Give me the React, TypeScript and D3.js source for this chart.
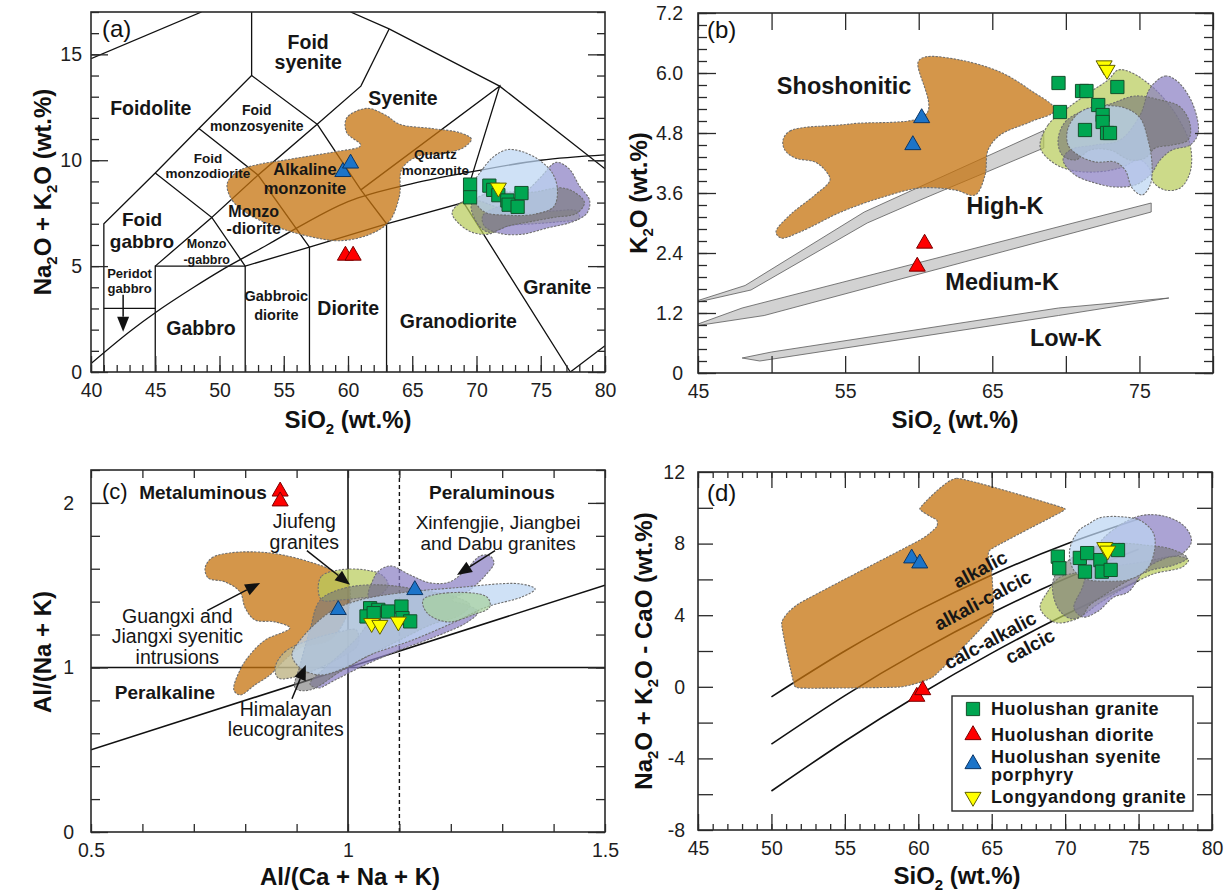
import React, { useRef, useEffect } from 'react';
import * as d3 from 'd3';

type Pt = [number, number];
type Sc = { x: d3.ScaleLinear<number, number>; y: d3.ScaleLinear<number, number> };

const FONT = '"Liberation Sans", Arial, Helvetica, sans-serif';
const W = 1231, H = 896;

// ---------------- (a) TAS, Middlemost (1994) ----------------
const tasLines: Pt[][] = [
  [[41, 0], [41, 7], [45, 9.4], [48.4, 11.5], [52.5, 14], [52.5, 17]],
  [[41, 3], [45, 3]],
  [[45, 0], [45, 5], [52, 5], [57, 5.9], [63, 7], [69, 8], [77.3, 0], [80, 1.24]],
  [[52, 0], [52, 5]],
  [[57, 0], [57, 5.9]],
  [[63, 0], [63, 7]],
  [[45, 5], [49.4, 7.3], [52, 5]],
  [[45, 9.4], [49.4, 7.3], [53, 9.3], [57, 5.9]],
  [[48.4, 11.5], [53, 9.3], [57.6, 11.7], [52.5, 14]],
  [[57.6, 11.7], [61, 8.6], [63, 7]],
  [[57.6, 11.7], [61, 13.5], [63.2, 16.2]],
  [[69, 8], [71.8, 13.5], [61, 8.6]],
  [[60.2, 17], [63.2, 16.2], [71.8, 13.5], [80, 9.6]],
  [[40, 14.8], [48.6, 17]],
];
const alkalineDivide: Pt[] = [[40, 0.4], [43.2, 2], [45, 2.8], [48, 4], [50, 4.75], [53.7, 6], [55, 6.45], [60, 8.05], [65, 8.9], [70, 9.5], [75, 10], [80, 10.25]];

const orangeA: Pt[] = [[50.6, 8.9], [51.0, 8.1], [52.4, 7.4], [54.7, 6.8], [57.0, 6.4], [59.4, 6.2], [61.7, 6.5], [63.2, 7.1], [64.0, 8.3], [64.2, 9.6], [65.5, 10.2], [67.3, 10.3], [69.0, 10.6], [69.6, 11.0], [68.7, 11.3], [66.5, 11.5], [64.0, 11.7], [63.0, 12.1], [61.5, 12.45], [59.9, 12.0], [59.9, 11.3], [61.0, 10.7], [59.0, 10.4], [57.0, 10.2], [55.0, 10.0], [53.0, 9.8], [51.5, 9.5]];
const yellowA: Pt[] = [[68.1, 7.5], [68.8, 8.0], [70, 8.1], [72, 7.7], [74, 7.5], [76, 7.6], [77.8, 7.6], [78.0, 7.25], [76.5, 7.1], [74.5, 7.0], [72.5, 6.9], [70.8, 6.5], [69.3, 6.7]];
const purpleA: Pt[] = [[70.5, 7.4], [72, 7.9], [73.8, 8.5], [75, 9.2], [76.2, 9.9], [77.2, 9.6], [78, 8.8], [78.8, 8.1], [78.6, 7.5], [77.5, 7.1], [75.5, 6.8], [73.5, 6.5], [71.8, 6.55], [70.6, 6.9]];
const grayA: Pt[] = [[69.6, 7.9], [70.6, 8.4], [72.5, 8.5], [74.5, 8.5], [76.5, 8.7], [77.6, 8.5], [78.4, 8.0], [77.8, 7.5], [76, 7.3], [74.2, 7.1], [72.5, 6.9], [71, 6.6], [70.2, 6.9]];
const blueA: Pt[] = [[69.6, 8.6], [70.5, 9.6], [71.4, 10.2], [72.4, 10.5], [73.6, 10.4], [74.9, 10.0], [75.9, 9.4], [76.3, 8.6], [76.0, 7.8], [74.5, 7.45], [72.5, 7.4], [70.5, 7.6]];

const graniteA: Pt[] = [[69.5, 8.85], [69.5, 8.25], [71.0, 8.8], [71.3, 8.6], [71.7, 8.35], [72.4, 8.1], [72.5, 7.9], [73.2, 7.8], [73.5, 8.45]];
const dioriteA: Pt[] = [[59.8, 5.5], [60.4, 5.5]];
const syeniteA: Pt[] = [[59.6, 9.45], [60.2, 9.85]];
const longyandongA: Pt[] = [[71.7, 8.7]];

const labelsA = [
  { lines: ['Foid', 'syenite'], x: 56.9, ys: [15.6, 14.65], size: 19.5 },
  { lines: ['Foidolite'], x: 44.65, ys: [12.45], size: 19.5 },
  { lines: ['Foid', 'monzosyenite'], x: 52.9, ys: [12.37, 11.61], size: 14 },
  { lines: ['Foid', 'monzodiorite'], x: 49.1, ys: [10.12, 9.38], size: 13.5 },
  { lines: ['Alkaline', 'monzonite'], x: 56.65, ys: [9.56, 8.7], size: 16.5 },
  { lines: ['Syenite'], x: 64.28, ys: [12.94], size: 19.5 },
  { lines: ['Quartz', 'monzonite'], x: 66.8, ys: [10.27, 9.52], size: 13.5 },
  { lines: ['Foid', 'gabbro'], x: 43.97, ys: [7.2, 6.2], size: 19 },
  { lines: ['Monzo', '-diorite'], x: 52.66, ys: [7.6, 6.78], size: 16 },
  { lines: ['Monzo', '-gabbro'], x: 49.0, ys: [6.06, 5.3], size: 12.5 },
  { lines: ['Peridot', 'gabbro'], x: 43.0, ys: [4.64, 3.96], size: 13 },
  { lines: ['Gabbro'], x: 48.56, ys: [2.06], size: 19.5 },
  { lines: ['Gabbroic', 'diorite'], x: 54.42, ys: [3.58, 2.72], size: 14.5 },
  { lines: ['Diorite'], x: 60.02, ys: [3.0], size: 19.5 },
  { lines: ['Granodiorite'], x: 68.58, ys: [2.41], size: 19.5 },
  { lines: ['Granite'], x: 76.29, ys: [4.03], size: 19.5 },
];

// ---------------- (b) K2O vs SiO2 ----------------
const bandShoshonitic: Pt[] = [[45, 1.45], [48.2, 1.75], [56.3, 3.22], [68.5, 4.85], [68.5, 4.5], [60.1, 3.46], [56.5, 3.0], [48.6, 1.66], [45, 1.42]];
const bandHighK: Pt[] = [[45, 0.98], [48, 1.3], [75.8, 3.4], [75.8, 3.22], [49.5, 1.15], [45, 0.95]];
const bandLowK: Pt[] = [[48, 0.3], [50, 0.42], [69.5, 1.3], [77, 1.5], [69.5, 1.15], [49.2, 0.24]];

const orangeB: Pt[] = [[50.78, 4.66], [51.25, 4.84], [55.33, 4.98], [60.57, 5.2], [59.96, 6.22], [60.43, 6.32], [62.81, 6.26], [65.53, 6.02], [67.57, 5.66], [69.27, 5.26], [67.57, 5.02], [65.53, 4.76], [64.71, 4.46], [64.51, 3.96], [63.83, 3.56], [62.47, 3.66], [60.09, 3.7], [57.37, 3.5], [54.72, 3.22], [51.93, 2.82], [50.64, 2.7], [50.3, 2.82], [51.25, 3.16], [52.95, 3.56], [53.97, 3.86], [53.63, 4.06], [52.95, 4.22], [51.6, 4.3], [50.9, 4.46]];
const yellowB: Pt[] = [[68.25, 4.52], [68.79, 4.96], [69.95, 5.26], [71.65, 5.62], [72.87, 5.86], [73.55, 6.06], [74.37, 6.02], [75.73, 5.76], [76.75, 5.46], [77.63, 5.1], [78.45, 4.56], [78.45, 4.02], [77.77, 3.7], [76.75, 3.66], [75.93, 3.82], [75.73, 4.06], [75.05, 4.26], [73.69, 4.1], [71.99, 4.02], [70.29, 4.06], [69.07, 4.22]];
const purpleB: Pt[] = [[75.73, 5.7], [76.75, 5.94], [77.63, 5.82], [78.65, 5.36], [78.99, 4.8], [78.45, 4.56], [77.22, 4.46], [76.41, 4.26], [75.73, 3.96], [74.71, 3.76], [73.35, 3.72], [71.99, 3.8], [70.63, 3.96], [69.81, 4.26], [70.29, 4.46], [71.99, 4.56], [73.69, 4.66], [75.05, 5.16]];
const grayB: Pt[] = [[69.95, 5.02], [71.31, 5.26], [73.01, 5.38], [74.71, 5.54], [76.41, 5.46], [77.77, 5.32], [78.45, 4.96], [78.31, 4.66], [77.22, 4.56], [76.07, 4.5], [75.39, 4.3], [74.37, 4.26], [73.01, 4.46], [71.65, 4.46], [70.63, 4.26], [69.75, 4.36], [69.47, 4.66]];
const blueB: Pt[] = [[70.15, 4.9], [70.97, 5.22], [72.33, 5.34], [74.03, 5.3], [75.05, 5.1], [75.59, 4.66], [75.86, 4.16], [75.73, 3.76], [75.18, 3.56], [74.5, 3.7], [74.03, 4.06], [73.35, 4.22], [71.99, 4.22], [70.83, 4.36], [70.15, 4.56]];

const graniteB: Pt[] = [[69.5, 5.8], [69.6, 5.22], [71.1, 5.64], [71.4, 5.64], [72.2, 5.36], [72.5, 5.16], [72.5, 5.02], [71.3, 4.86], [72.8, 4.8], [73.0, 4.8], [73.5, 5.72]];
const dioriteB: Pt[] = [[60.4, 2.59], [59.9, 2.13]];
const syeniteB: Pt[] = [[60.2, 5.1], [59.6, 4.56]];
const longyandongB: Pt[] = [[72.6, 6.15], [72.8, 6.06]];

const labelsB = [
  { lines: ['Shoshonitic'], x: 54.93, ys: [5.74], size: 23.5 },
  { lines: ['High-K'], x: 65.87, ys: [3.34], size: 23.5 },
  { lines: ['Medium-K'], x: 65.67, ys: [1.82], size: 23.5 },
  { lines: ['Low-K'], x: 70.0, ys: [0.7], size: 23.5 },
];

// ---------------- (c) A/NK vs A/CNK ----------------
const cLines: Pt[][] = [
  [[0.5, 1], [1.5, 1]],
  [[1, 0], [1, 2.2]],
  [[0.5, 0.5], [1.5, 1.5]],
];
const cDashed: Pt[] = [[1.1, 0], [1.1, 2.2]];

const orangeC: Pt[] = [[0.722, 1.605], [0.735, 1.666], [0.77, 1.696], [0.848, 1.696], [0.926, 1.641], [0.975, 1.581], [1.0, 1.52], [1.004, 1.41], [0.994, 1.289], [0.965, 1.167], [0.907, 1.119], [0.877, 1.046], [0.848, 0.954], [0.819, 0.894], [0.79, 0.833], [0.778, 0.863], [0.79, 0.985], [0.809, 1.076], [0.839, 1.167], [0.887, 1.24], [0.858, 1.277], [0.819, 1.289], [0.8, 1.362], [0.79, 1.459], [0.761, 1.52], [0.728, 1.544]];
const khakiC: Pt[] = [[0.858, 0.997], [0.877, 1.094], [0.926, 1.167], [0.984, 1.216], [1.016, 1.228], [1.019, 1.137], [0.984, 1.058], [0.926, 0.973], [0.887, 0.936], [0.864, 0.936]];
const yellowC: Pt[] = [[0.942, 1.483], [0.949, 1.556], [0.984, 1.593], [1.033, 1.593], [1.066, 1.562], [1.078, 1.502], [1.062, 1.441], [1.023, 1.422], [0.984, 1.41], [0.949, 1.41]];
const purpleC: Pt[] = [[1.058, 1.581], [1.082, 1.617], [1.121, 1.562], [1.16, 1.514], [1.198, 1.52], [1.233, 1.605], [1.257, 1.678], [1.276, 1.678], [1.284, 1.635], [1.268, 1.562], [1.237, 1.471], [1.202, 1.41], [1.237, 1.374], [1.253, 1.337], [1.233, 1.277], [1.179, 1.198], [1.101, 1.106], [1.033, 1.015], [0.975, 0.924], [0.942, 0.875], [0.926, 0.9], [0.955, 0.997], [0.994, 1.106], [1.027, 1.216], [1.047, 1.337], [1.039, 1.441], [1.047, 1.52]];
const grayC: Pt[] = [[0.946, 1.41], [0.994, 1.483], [1.062, 1.502], [1.14, 1.471], [1.208, 1.429], [1.237, 1.38], [1.218, 1.319], [1.16, 1.258], [1.101, 1.167], [1.043, 1.076], [0.984, 0.973], [0.926, 0.863], [0.897, 0.875], [0.907, 1.015], [0.926, 1.228]];
const blueC: Pt[] = [[0.907, 1.167], [0.965, 1.337], [1.023, 1.41], [1.101, 1.453], [1.204, 1.483], [1.335, 1.508], [1.364, 1.477], [1.339, 1.429], [1.27, 1.368], [1.204, 1.271], [1.126, 1.167], [1.043, 1.076], [0.994, 0.997], [0.946, 0.954], [0.907, 0.997], [0.891, 1.076]];
const greenC: Pt[] = [[1.146, 1.41], [1.193, 1.453], [1.27, 1.429], [1.276, 1.368], [1.243, 1.319], [1.193, 1.277], [1.154, 1.331]];

const graniteC: Pt[] = [[1.043, 1.36], [1.059, 1.35], [1.078, 1.34], [1.104, 1.37], [1.106, 1.3], [1.121, 1.28], [1.036, 1.31], [1.05, 1.33]];
const dioriteC: Pt[] = [[0.868, 2.07], [0.868, 2.01]];
const syeniteC: Pt[] = [[0.981, 1.35], [1.13, 1.471]];
const longyandongC: Pt[] = [[1.046, 1.269], [1.062, 1.258], [1.098, 1.278]];

const labelsC = [
  { lines: ['Metaluminous'], x: 0.718, ys: [2.067], size: 19, bold: true },
  { lines: ['Peraluminous'], x: 1.28, ys: [2.067], size: 19, bold: true },
  { lines: ['Peralkaline'], x: 0.644, ys: [0.851], size: 19, bold: true },
  { lines: ['Jiufeng', 'granites'], x: 0.915, ys: [1.888, 1.765], size: 19.5, bold: false },
  { lines: ['Xinfengjie, Jiangbei', 'and Dabu granites'], x: 1.292, ys: [1.885, 1.757], size: 19, bold: false },
  { lines: ['Guangxi and', 'Jiangxi syenitic', 'intrusions'], x: 0.668, ys: [1.315, 1.19, 1.065], size: 19.5, bold: false },
  { lines: ['Himalayan', 'leucogranites'], x: 0.879, ys: [0.75, 0.625], size: 19.5, bold: false },
];
const arrowsC: [Pt, Pt][] = [
  [[0.726, 1.345], [0.829, 1.514]],
  [[0.92, 1.71], [1.004, 1.502]],
  [[1.286, 1.71], [1.212, 1.562]],
  [[0.891, 0.81], [0.918, 1.015]],
];

// ---------------- (d) MALI vs SiO2 ----------------
const maliAlkalic: Pt[] = [[50, -0.56], [55, 2.0], [60, 4.27], [65, 6.25], [70, 7.95], [75, 9.37]];
const maliAlkaliCalcic: Pt[] = [[50, -3.2], [55, -0.49], [60, 1.95], [65, 4.12], [70, 6.04], [75, 7.69]];
const maliCalcAlkalic: Pt[] = [[50, -5.82], [55, -3.04], [60, -0.47], [65, 1.88], [70, 4.02], [75, 5.94]];

const orangeD: Pt[] = [[60.11, 9.97], [62.61, 11.65], [69.64, 10.06], [69.76, 9.78], [64.88, 7.64], [65.0, 6.43], [65.1, 4.11], [63.72, 2.78], [61.0, 0.55], [58.75, -0.01], [51.94, -0.07], [51.47, 0.38], [50.7, 3.56], [51.94, 4.68], [60.11, 8.2], [61.25, 8.94], [61.25, 9.32]];
const yellowD: Pt[] = [[68.3, 4.4], [68.8, 5.3], [69.6, 6.1], [71, 6.4], [73, 6.7], [75.5, 7], [77.5, 7.3], [78.4, 7.1], [78.0, 6.7], [76, 6.3], [74, 5.5], [72.2, 4.6], [70.8, 3.8], [69.3, 3.6]];
const purpleD: Pt[] = [[71.8, 7.4], [73.0, 8.6], [75.1, 9.55], [76.9, 9.5], [78.2, 8.9], [78.6, 8.1], [77.9, 7.4], [76.9, 7.2], [75.5, 6.6], [74.3, 5.3], [73.3, 5.0], [72.2, 4.2], [71.2, 3.9], [70.6, 4.4], [71.2, 5.6], [71.5, 6.6]];
const grayD: Pt[] = [[69.2, 6.0], [70.8, 7.4], [73.2, 8.0], [75.6, 7.9], [77.2, 7.7], [78.3, 7.2], [77.4, 6.8], [75.8, 6.5], [74.0, 5.8], [72.8, 5.2], [71.6, 4.5], [71.2, 4.0], [70.4, 3.8], [69.5, 4.4]];
const blueD: Pt[] = [[70.3, 7.6], [70.9, 8.7], [71.6, 9.1], [72.4, 9.45], [73.8, 9.5], [75.1, 9.3], [76.0, 8.6], [76.1, 7.7], [75.6, 6.6], [74.4, 6.0], [73.0, 5.9], [71.5, 6.0], [70.6, 6.5]];

const graniteD: Pt[] = [[69.5, 7.27], [69.6, 6.62], [71.0, 7.2], [71.5, 7.47], [71.35, 6.43], [72.4, 7.08], [72.5, 6.43], [73.1, 6.53], [73.6, 7.64]];
const dioriteD: Pt[] = [[59.9, -0.55], [60.3, -0.18]];
const syeniteD: Pt[] = [[59.55, 7.18], [60.1, 6.9]];
const longyandongD: Pt[] = [[72.7, 7.8], [72.9, 7.6]];

const labelsD = [
  { text: 'alkalic', x: 64.2, y: 6.58 },
  { text: 'alkali-calcic', x: 64.38, y: 4.85 },
  { text: 'calc-alkalic', x: 64.88, y: 2.61 },
  { text: 'calcic', x: 67.6, y: 2.28 },
];

const legendNames = ['Huolushan granite', 'Huolushan diorite', 'Huolushan syenite|porphyry', 'Longyandong granite'];

// ---------------- scales ----------------
const mk = (xd: number[], xr: number[], yd: number[], yr: number[]): Sc => ({
  x: d3.scaleLinear().domain(xd).range(xr),
  y: d3.scaleLinear().domain(yd).range(yr),
});
const SA = mk([40, 80], [91, 605], [0, 17], [372, 12]);
const SB = mk([45, 80], [698, 1213], [0, 7.2], [373, 13]);
const SC = mk([0.5, 1.5], [91, 605], [0, 2.2], [832, 470]);
const SD = mk([45, 80], [698, 1212], [-8, 12], [830, 472]);

const steps = (a: number, b: number, st: number) => {
  const out: number[] = [];
  const n = Math.round((b - a) / st);
  for (let i = 0; i <= n; i++) out.push(+(a + i * st).toFixed(4));
  return out;
};

const FIELD: Record<string, { fill: string; op: number }> = {
  orange: { fill: '#c6730e', op: 0.75 },
  yellow: { fill: '#b9cc5c', op: 0.72 },
  purple: { fill: '#8a80c4', op: 0.72 },
  gray: { fill: '#787878', op: 0.62 },
  blue: { fill: '#bcd6f2', op: 0.72 },
  green: { fill: '#a6d19c', op: 0.7 },
  khaki: { fill: '#c2b98c', op: 0.85 },
};

const MARK: Record<string, { d: string; fill: string; stroke: string; flip?: boolean }> = {
  granite: { d: d3.symbol().type(d3.symbolSquare).size(175)() as string, fill: '#00a651', stroke: '#14502b' },
  diorite: { d: d3.symbol().type(d3.symbolTriangle).size(112)() as string, fill: '#ff0000', stroke: '#7a0000' },
  syenite: { d: d3.symbol().type(d3.symbolTriangle).size(112)() as string, fill: '#1c74c9', stroke: '#0a3566' },
  longyandong: { d: d3.symbol().type(d3.symbolTriangle).size(112)() as string, fill: '#ffff00', stroke: '#5f5f00', flip: true },
};

const closedPath = (s: Sc, pts: Pt[], curve: any = d3.curveCatmullRomClosed.alpha(0.5)) =>
  d3.line<Pt>().x(p => s.x(p[0])).y(p => s.y(p[1])).curve(curve)(pts) || '';
const openPath = (s: Sc, pts: Pt[], curve: any = d3.curveLinear) =>
  d3.line<Pt>().x(p => s.x(p[0])).y(p => s.y(p[1])).curve(curve)(pts) || '';

function Field({ s, pts, k, curve }: { s: Sc; pts: Pt[]; k: string; curve?: any }) {
  const f = FIELD[k];
  return (
    <path d={closedPath(s, pts, curve)} fill={f.fill} fillOpacity={f.op}
      stroke="#6f6f6f" strokeWidth={1.1} strokeDasharray="2.2 1.4" />
  );
}

function Points({ s, data, kind }: { s: Sc; data: Pt[]; kind: string }) {
  const m = MARK[kind];
  return (
    <g>
      {data.map((p, i) => (
        <path key={i} d={m.d} fill={m.fill} stroke={m.stroke} strokeWidth={1}
          transform={`translate(${s.x(p[0])},${s.y(p[1])})${m.flip ? ' rotate(180)' : ''}`} />
      ))}
    </g>
  );
}

function Labels({ s, items, bold = true }: { s: Sc; items: any[]; bold?: boolean }) {
  return (
    <g fill="#161616" fontFamily={FONT} textAnchor="middle">
      {items.map((l, i) => (
        <text key={i} fontSize={l.size} fontWeight={(l.bold ?? bold) ? 700 : 400}>
          {l.lines.map((t: string, j: number) => (
            <tspan key={j} x={s.x(l.x)} y={s.y(l.ys[j])} dy="0.36em">{t}</tspan>
          ))}
        </text>
      ))}
    </g>
  );
}

function Arrow({ s, from, to }: { s: Sc; from: Pt; to: Pt }) {
  const x1 = s.x(from[0]), y1 = s.y(from[1]), x2 = s.x(to[0]), y2 = s.y(to[1]);
  const a = Math.atan2(y2 - y1, x2 - x1);
  const hl = 15, hw = 12;
  const bx = x2 - hl * Math.cos(a), by = y2 - hl * Math.sin(a);
  const px = (-Math.sin(a) * hw) / 2, py = (Math.cos(a) * hw) / 2;
  return (
    <g>
      <line x1={x1} y1={y1} x2={bx} y2={by} stroke="#111" strokeWidth={1.5} />
      <path d={`M${x2},${y2}L${bx + px},${by + py}L${bx - px},${by - py}Z`} fill="#111" />
    </g>
  );
}

type TickSet = { vals: number[]; len: number; labels?: number[] };
type AxisCfg = { sets: TickSet[]; pad: number; mirror: boolean; fmt: (v: number) => string };

function Axes({ s, xa, ya }: { s: Sc; xa: AxisCfg; ya: AxisCfg }) {
  const ref = useRef<SVGGElement>(null);
  useEffect(() => {
    const g = d3.select(ref.current);
    g.selectAll('*').remove();
    const [left, right] = s.x.range();
    const [bottom, top] = s.y.range();
    const tidy = (sel: any) => {
      sel.select('.domain').remove();
      sel.selectAll('line').attr('stroke', '#2a2a2a').attr('stroke-width', 1.3);
      sel.selectAll('text').attr('font-family', FONT).attr('font-size', 19.5).attr('fill', '#1e1e1e');
    };
    const lab = (set: TickSet, fmt: (v: number) => string) => (v: any) =>
      set.labels && set.labels.some(l => Math.abs(l - v) < 1e-6) ? fmt(v) : '';
    xa.sets.forEach(set => {
      g.append('g').attr('transform', `translate(0,${bottom})`)
        .call(d3.axisBottom(s.x).tickValues(set.vals).tickSize(-set.len).tickPadding(xa.pad).tickFormat(lab(set, xa.fmt)))
        .call(tidy);
      if (xa.mirror)
        g.append('g').attr('transform', `translate(0,${top})`)
          .call(d3.axisTop(s.x).tickValues(set.vals).tickSize(-set.len).tickFormat(() => ''))
          .call(tidy);
    });
    ya.sets.forEach(set => {
      g.append('g').attr('transform', `translate(${left},0)`)
        .call(d3.axisLeft(s.y).tickValues(set.vals).tickSize(-set.len).tickPadding(ya.pad).tickFormat(lab(set, ya.fmt)))
        .call(tidy);
      if (ya.mirror)
        g.append('g').attr('transform', `translate(${right},0)`)
          .call(d3.axisRight(s.y).tickValues(set.vals).tickSize(-set.len).tickFormat(() => ''))
          .call(tidy);
    });
  }, [s, xa, ya]);
  return <g ref={ref} />;
}

function Clip({ s, id }: { s: Sc; id: string }) {
  const [x0, x1] = s.x.range();
  const [y0, y1] = s.y.range();
  return (
    <defs>
      <clipPath id={id}><rect x={x0} y={y1} width={x1 - x0} height={y0 - y1} /></clipPath>
    </defs>
  );
}
function Border({ s }: { s: Sc }) {
  const [x0, x1] = s.x.range();
  const [y0, y1] = s.y.range();
  return <rect x={x0} y={y1} width={x1 - x0} height={y0 - y1} fill="none" stroke="#2a2a2a" strokeWidth={1.6} />;
}

const sub = (t: string) => <tspan fontSize={15} dy={6}>{t}</tspan>;

const ax = {
  a: {
    x: { sets: [{ vals: steps(40, 80, 1), len: 7 }, { vals: steps(40, 80, 5), len: 16, labels: steps(40, 80, 5) }], pad: 11, mirror: false, fmt: (v: number) => String(v) },
    y: { sets: [{ vals: steps(0, 17, 1), len: 8 }, { vals: [0, 5, 10, 15], len: 17, labels: [0, 5, 10, 15] }], pad: 9, mirror: true, fmt: (v: number) => String(v) },
  },
  b: {
    x: { sets: [{ vals: steps(45, 80, 5), len: 17, labels: [45, 55, 65, 75] }], pad: 11, mirror: true, fmt: (v: number) => String(v) },
    y: { sets: [{ vals: steps(0, 7.2, 0.24), len: 9 }, { vals: steps(0, 7.2, 1.2), len: 18, labels: steps(0, 7.2, 1.2) }], pad: 15, mirror: true, fmt: (v: number) => (v === 0 ? '0' : v.toFixed(1)) },
  },
  c: {
    x: { sets: [{ vals: steps(0.5, 1.5, 0.1), len: 8, labels: [0.5, 1, 1.5] }], pad: 11, mirror: true, fmt: (v: number) => String(v) },
    y: { sets: [{ vals: steps(0, 2.2, 0.2), len: 9 }, { vals: [0, 1, 2], len: 17, labels: [0, 1, 2] }], pad: 17, mirror: true, fmt: (v: number) => String(v) },
  },
  d: {
    x: { sets: [{ vals: steps(45, 80, 1), len: 6 }, { vals: steps(45, 80, 5), len: 16, labels: steps(45, 80, 5) }], pad: 11, mirror: true, fmt: (v: number) => String(v) },
    y: { sets: [{ vals: steps(-8, 12, 2), len: 15, labels: [-8, -4, 0, 4, 8, 12] }], pad: 13, mirror: true, fmt: (v: number) => String(v) },
  },
};

function PanelA() {
  const s = SA;
  return (
    <g>
      <Clip s={s} id="clipA" />
      <g clipPath="url(#clipA)">
        {tasLines.map((l, i) => <path key={i} d={openPath(s, l)} fill="none" stroke="#111" strokeWidth={1.3} />)}
        <path d={openPath(s, alkalineDivide, d3.curveMonotoneX)} fill="none" stroke="#111" strokeWidth={1.3} />
        <Field s={s} pts={yellowA} k="yellow" />
        <Field s={s} pts={purpleA} k="purple" />
        <Field s={s} pts={grayA} k="gray" />
        <Field s={s} pts={blueA} k="blue" />
        <Field s={s} pts={orangeA} k="orange" />
      </g>
      <Arrow s={s} from={[42.5, 3.65]} to={[42.5, 1.9]} />
      <Labels s={s} items={labelsA} />
      <Points s={s} data={graniteA} kind="granite" />
      <Points s={s} data={dioriteA} kind="diorite" />
      <Points s={s} data={syeniteA} kind="syenite" />
      <Points s={s} data={longyandongA} kind="longyandong" />
      <Axes s={s} xa={ax.a.x} ya={ax.a.y} />
      <Border s={s} />
      <text x={102} y={37} fontSize={24} fill="#111">(a)</text>
      <text x={348} y={428} fontSize={24} fontWeight={700} textAnchor="middle" fill="#111">
        SiO{sub('2')}<tspan dy={-6}> (wt.%)</tspan>
      </text>
      <text transform="translate(51,192) rotate(-90)" fontSize={24} fontWeight={700} textAnchor="middle" fill="#111">
        Na{sub('2')}<tspan dy={-6}>O + K</tspan>{sub('2')}<tspan dy={-6}>O (wt.%)</tspan>
      </text>
    </g>
  );
}

function PanelB() {
  const s = SB;
  return (
    <g>
      <Clip s={s} id="clipB" />
      <g clipPath="url(#clipB)">
        {[bandShoshonitic, bandHighK, bandLowK].map((b, i) => (
          <path key={i} d={closedPath(s, b, d3.curveLinearClosed)} fill="#d2d2d2" stroke="#5a5a5a" strokeWidth={0.8} />
        ))}
        <Field s={s} pts={orangeB} k="orange" />
        <Field s={s} pts={yellowB} k="yellow" />
        <Field s={s} pts={purpleB} k="purple" />
        <Field s={s} pts={grayB} k="gray" />
        <Field s={s} pts={blueB} k="blue" />
      </g>
      <Labels s={s} items={labelsB} />
      <Points s={s} data={graniteB} kind="granite" />
      <Points s={s} data={dioriteB} kind="diorite" />
      <Points s={s} data={syeniteB} kind="syenite" />
      <Points s={s} data={longyandongB} kind="longyandong" />
      <Axes s={s} xa={ax.b.x} ya={ax.b.y} />
      <Border s={s} />
      <text x={707} y={38} fontSize={24} fill="#111">(b)</text>
      <text x={955} y={428} fontSize={24} fontWeight={700} textAnchor="middle" fill="#111">
        SiO{sub('2')}<tspan dy={-6}> (wt.%)</tspan>
      </text>
      <text transform="translate(647,193) rotate(-90)" fontSize={24} fontWeight={700} textAnchor="middle" fill="#111">
        K{sub('2')}<tspan dy={-6}>O (wt.%)</tspan>
      </text>
    </g>
  );
}

function PanelC() {
  const s = SC;
  return (
    <g>
      <Clip s={s} id="clipC" />
      <g clipPath="url(#clipC)">
        {cLines.map((l, i) => <path key={i} d={openPath(s, l)} fill="none" stroke="#111" strokeWidth={1.6} />)}
        <path d={openPath(s, cDashed)} fill="none" stroke="#111" strokeWidth={1.4} strokeDasharray="4 3" />
        <Field s={s} pts={orangeC} k="orange" />
        <Field s={s} pts={khakiC} k="khaki" />
        <Field s={s} pts={yellowC} k="yellow" />
        <Field s={s} pts={purpleC} k="purple" />
        <Field s={s} pts={grayC} k="gray" />
        <Field s={s} pts={blueC} k="blue" />
        <Field s={s} pts={greenC} k="green" />
      </g>
      {arrowsC.map((a, i) => <Arrow key={i} s={s} from={a[0]} to={a[1]} />)}
      <Labels s={s} items={labelsC} />
      <Points s={s} data={graniteC} kind="granite" />
      <Points s={s} data={dioriteC} kind="diorite" />
      <Points s={s} data={syeniteC} kind="syenite" />
      <Points s={s} data={longyandongC} kind="longyandong" />
      <Axes s={s} xa={ax.c.x} ya={ax.c.y} />
      <Border s={s} />
      <text x={102} y={499} fontSize={22} fill="#111">(c)</text>
      <text x={350} y={885} fontSize={24} fontWeight={700} textAnchor="middle" fill="#111">Al/(Ca + Na + K)</text>
      <text transform="translate(51,652) rotate(-90)" fontSize={24} fontWeight={700} textAnchor="middle" fill="#111">Al/(Na + K)</text>
    </g>
  );
}

function PanelD() {
  const s = SD;
  const kinds = ['granite', 'diorite', 'syenite', 'longyandong'];
  const rowY = [709, 735, 764, 797];
  return (
    <g>
      <Clip s={s} id="clipD" />
      <g clipPath="url(#clipD)">
        {[maliAlkalic, maliAlkaliCalcic, maliCalcAlkalic].map((l, i) => (
          <path key={i} d={openPath(s, l, d3.curveNatural)} fill="none" stroke="#111" strokeWidth={1.6} />
        ))}
        <Field s={s} pts={orangeD} k="orange" curve={d3.curveCardinalClosed.tension(0.6)} />
        <Field s={s} pts={yellowD} k="yellow" />
        <Field s={s} pts={purpleD} k="purple" />
        <Field s={s} pts={grayD} k="gray" />
        <Field s={s} pts={blueD} k="blue" />
      </g>
      <g fontFamily={FONT} fontWeight={700} fontSize={19} fill="#161616" textAnchor="middle">
        {labelsD.map((l, i) => (
          <text key={i} transform={`translate(${s.x(l.x)},${s.y(l.y)}) rotate(-28)`} dy="0.36em">{l.text}</text>
        ))}
      </g>
      <Points s={s} data={graniteD} kind="granite" />
      <Points s={s} data={dioriteD} kind="diorite" />
      <Points s={s} data={syeniteD} kind="syenite" />
      <Points s={s} data={longyandongD} kind="longyandong" />
      <Axes s={s} xa={ax.d.x} ya={ax.d.y} />
      <Border s={s} />
      <g>
        <rect x={952} y={696} width={241} height={115} fill="#fff" stroke="#2a2a2a" strokeWidth={1.4} />
        {legendNames.map((n, i) => {
          const m = MARK[kinds[i]];
          const parts = n.split('|');
          return (
            <g key={n}>
              <path d={m.d} fill={m.fill} stroke={m.stroke} strokeWidth={1}
                transform={`translate(973,${rowY[i]})${m.flip ? ' rotate(180)' : ''}`} />
              <text x={991} y={parts.length > 1 ? rowY[i] - 7 : rowY[i]} fontFamily={FONT}
                fontWeight={700} fontSize={18} letterSpacing={0.6} fill="#161616">
                {parts.map((p, j) => <tspan key={j} x={991} dy={j === 0 ? '0.36em' : 18}>{p}</tspan>)}
              </text>
            </g>
          );
        })}
      </g>
      <text x={707} y={501} fontSize={24} fill="#111">(d)</text>
      <text x={957} y={884} fontSize={24} fontWeight={700} textAnchor="middle" fill="#111">
        SiO{sub('2')}<tspan dy={-6}> (wt.%)</tspan>
      </text>
      <text transform="translate(652,651) rotate(-90)" fontSize={24} fontWeight={700} textAnchor="middle" fill="#111">
        Na{sub('2')}<tspan dy={-6}>O + K</tspan>{sub('2')}<tspan dy={-6}>O - CaO (wt.%)</tspan>
      </text>
    </g>
  );
}

export default function App() {
  return (
    <svg width={W} height={H} viewBox={`0 0 ${W} ${H}`} fontFamily={FONT}
      style={{ position: 'absolute', left: 0, top: 0, background: '#fff' }}>
      <rect width={W} height={H} fill="#fff" />
      <PanelA />
      <PanelB />
      <PanelC />
      <PanelD />
    </svg>
  );
}
